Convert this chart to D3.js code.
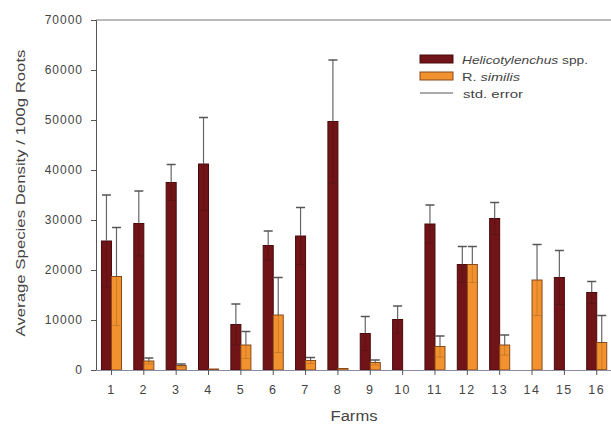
<!DOCTYPE html>
<html><head><meta charset="utf-8">
<script src="https://cdn.jsdelivr.net/npm/d3@7"></script>
<style>body{margin:0;background:#fff}svg{display:block}text{font-family:"Liberation Sans",Arial,sans-serif;fill:#444}</style>
</head><body><svg id="c" width="611" height="426"></svg>
<script>
const farms = ["1","2","3","4","5","6","7","8","9","10","11","12","13","14","15","16"];
const heliMean = [25800,29300,37500,41200,9100,24900,26800,49700,7300,10100,29200,21100,30300,0,18500,15500];
const heliErr  = [9200,6500,3600,9300,4100,2900,5700,12300,3400,2700,3800,3600,3200,0,5400,2200];
const simMean  = [18700,1800,900,200,5000,11000,1900,300,1500,0,4700,21100,5000,18000,0,5500];
const simErr   = [9800,600,300,0,2700,7500,600,0,500,0,2100,3600,2000,7100,0,5400];
const yTicks = [0,10000,20000,30000,40000,50000,60000,70000];
const seriesNames = ["Helicotylenchus spp.","R. similis","std. error"];
const colors = ["#701418","#f2922f"];

const svg = d3.select("#c");
const L=96, T=20, B=370;
const x = d3.scaleBand().domain(farms).range([95.3,612.9]).paddingInner(0.38).paddingOuter(0.19);
const xs = d3.scaleBand().domain([0,1]).range([0,x.bandwidth()]);
const y = d3.scaleLinear().domain([0,70000]).range([B,T]);

const data = farms.map((f,i)=>[
  {f, s:0, v:heliMean[i], e:heliErr[i]},
  {f, s:1, v:simMean[i], e:simErr[i]}
]).flat();

// frame
svg.append("line").attr("x1",L).attr("x2",611).attr("y1",T).attr("y2",T).attr("stroke","#777").attr("stroke-width",1);

// bars
svg.append("g").selectAll("rect").data(data.filter(d=>d.v>0)).join("rect")
  .attr("x",d=>x(d.f)+xs(d.s))
  .attr("width",xs.bandwidth())
  .attr("y",d=>y(d.v))
  .attr("height",d=>B-y(d.v))
  .attr("fill",d=>colors[d.s])
  .attr("stroke",d=>d.s===0?"#4a0a0c":"#8a4a1a")
  .attr("stroke-width",1);

// error bars
const eg = svg.append("g");
const ed = data.filter(d=>d.e>0);
const cx = d=>x(d.f)+xs(d.s)+xs.bandwidth()/2;
eg.selectAll("line.up").data(ed).join("line")
  .attr("x1",cx).attr("x2",cx)
  .attr("y1",d=>y(d.v)).attr("y2",d=>y(d.v+d.e)).attr("stroke","#666").attr("stroke-width",1.2);
eg.selectAll("line.cap").data(ed).join("line")
  .attr("x1",d=>cx(d)-4.5).attr("x2",d=>cx(d)+4.5)
  .attr("y1",d=>y(d.v+d.e)).attr("y2",d=>y(d.v+d.e)).attr("stroke","#555").attr("stroke-width",1.5);
eg.selectAll("line.dn").data(ed.filter(d=>d.v-d.e>0)).join("line")
  .attr("x1",cx).attr("x2",cx)
  .attr("y1",d=>y(d.v)).attr("y2",d=>y(d.v-d.e)).attr("stroke","#000").attr("stroke-opacity",0.15).attr("stroke-width",1);
eg.selectAll("line.dcap").data(ed.filter(d=>d.v-d.e>0)).join("line")
  .attr("x1",d=>x(d.f)+xs(d.s)+1).attr("x2",d=>x(d.f)+xs(d.s)+xs.bandwidth()-1)
  .attr("y1",d=>y(d.v-d.e)).attr("y2",d=>y(d.v-d.e)).attr("stroke","#000").attr("stroke-opacity",0.15).attr("stroke-width",1);

// axes
const ya = svg.append("g").attr("transform",`translate(${L},0)`)
  .call(d3.axisLeft(y).tickValues(yTicks).tickFormat(d3.format("d")).tickSize(5).tickPadding(8));
ya.select(".domain").attr("stroke","#555");
ya.selectAll(".tick line").attr("stroke","#555");
ya.selectAll("text").style("font-size","12px").style("letter-spacing","1px").attr("fill","#444");

const xa = svg.append("g").attr("transform",`translate(0,${B})`)
  .call(d3.axisBottom(x).tickSize(5).tickSizeOuter(0).tickPadding(10));
xa.select(".domain").attr("stroke","#8a8aa0").attr("d",`M${L},0.5H611`);
xa.selectAll(".tick line").attr("stroke","#555");
xa.selectAll("text").style("font-size","12.5px").style("letter-spacing","1.5px").attr("fill","#444");

// titles
svg.append("text").attr("transform","translate(25,193) rotate(-90)").attr("text-anchor","middle")
  .style("font-size","13.5px").attr("textLength",287).attr("lengthAdjust","spacingAndGlyphs")
  .text("Average Species Density / 100g Roots");
svg.append("text").attr("x",354).attr("y",421).attr("text-anchor","middle").style("font-size","14px")
  .attr("textLength",47).attr("lengthAdjust","spacingAndGlyphs").text("Farms");

// legend
const lg = svg.append("g");
[0,1].forEach(i=>{
  lg.append("rect").attr("x",420).attr("y",55+i*17).attr("width",33).attr("height",8)
    .attr("fill",colors[i]).attr("stroke",i===0?"#4a0a0c":"#8a4a1a");
});
lg.append("line").attr("x1",420).attr("x2",453).attr("y1",93).attr("y2",93).attr("stroke","#555");
const lt = lg.append("text").attr("x",462).attr("y",64).style("font-size","11.5px")
  .attr("textLength",126).attr("lengthAdjust","spacingAndGlyphs");
lt.append("tspan").style("font-style","italic").text("Helicotylenchus");
lt.append("tspan").text(" spp.");
const lt2 = lg.append("text").attr("x",462).attr("y",81).style("font-size","11.5px")
  .attr("textLength",58).attr("lengthAdjust","spacingAndGlyphs");
lt2.append("tspan").text("R. ");
lt2.append("tspan").style("font-style","italic").text("similis");
lg.append("text").attr("x",463).attr("y",98).style("font-size","11.5px")
  .attr("textLength",60).attr("lengthAdjust","spacingAndGlyphs").text(seriesNames[2]);
</script></body></html>
